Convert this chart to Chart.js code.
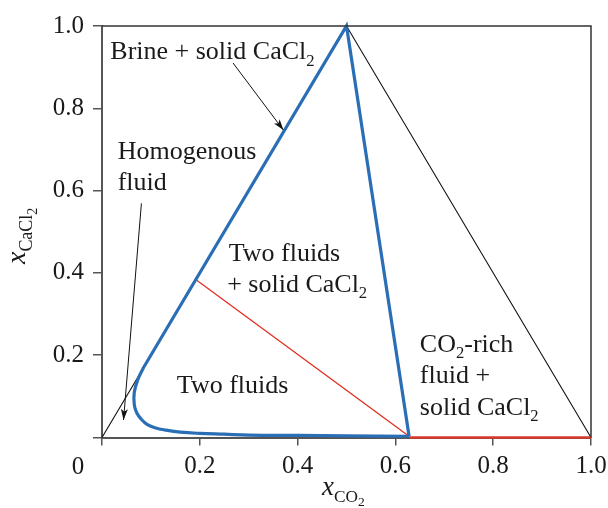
<!DOCTYPE html>
<html>
<head>
<meta charset="utf-8">
<script src="https://cdn.jsdelivr.net/npm/chart.js@4.4.1/dist/chart.umd.min.js"></script>
<style>
  body { margin: 0; background: #fff; }
</style>
</head>
<body>
<canvas id="phaseChart" width="608" height="508"></canvas>
<script>
// Ternary-like phase diagram: x(CO2) vs x(CaCl2)
const tickValues = [0, 0.2, 0.4, 0.6, 0.8, 1.0];

// outer triangle (thin black)
const triangleX = [0, 0.5, 1];
const triangleY = [0, 1, 0];

// blue boundary: straight edges
const blueEdgeX = [0.628, 0.5, 0.085];
const blueEdgeY = [0.003, 1.0, 0.17];

// blue boundary: curved part near the water corner
const blueCurveX = [0.085, 0.073, 0.066, 0.066, 0.071, 0.08, 0.092, 0.11, 0.13, 0.16, 0.2, 0.25, 0.3, 0.4, 0.5, 0.628];
const blueCurveY = [0.17, 0.14, 0.11, 0.08, 0.06, 0.045, 0.032, 0.023, 0.018, 0.013, 0.01, 0.008, 0.006, 0.005, 0.004, 0.003];

// red tie line and red bottom segment
const tieX = [0.193, 0.628];
const tieY = [0.383, 0.003];
const redBaseX = [0.628, 1.0];
const redBaseY = [0, 0];

// annotation arrows (start -> tip)
const arrowBrineX = [0.268, 0.371];
const arrowBrineY = [0.910, 0.747];
const arrowHomoX = [0.0806, 0.044];
const arrowHomoY = [0.569, 0.0425];

// region labels: [x, y(baseline), parts]
const regionLabels = [
  [0.017, 0.919, [['Brine + solid CaCl', 0], ['2', 1]]],
  [0.032, 0.678, [['Homogenous', 0]]],
  [0.032, 0.601, [['fluid', 0]]],
  [0.259, 0.430, [['Two fluids', 0]]],
  [0.256, 0.354, [['+ solid CaCl', 0], ['2', 1]]],
  [0.153, 0.107, [['Two fluids', 0]]],
  [0.650, 0.2085, [['CO', 0], ['2', 1], ['-rich', 0]]],
  [0.650, 0.133, [['fluid +', 0]]],
  [0.650, 0.055, [['solid CaCl', 0], ['2', 1]]]
];

const serif = "'Liberation Serif', 'Times New Roman', serif";

function toPoints(xs, ys) {
  return xs.map((v, i) => ({ x: v, y: ys[i] }));
}

function drawRich(ctx, parts, px, py, size) {
  let cx = px;
  parts.forEach(([txt, lvl, italic]) => {
    const fs = lvl === 0 ? size : (lvl === 1 ? size * 0.64 : size * 0.5);
    const dy = lvl === 0 ? 0 : (lvl === 1 ? size * 0.25 : size * 0.42);
    ctx.font = (italic ? 'italic ' : '') + fs + 'px ' + serif;
    ctx.fillText(txt, cx, py + dy);
    cx += ctx.measureText(txt).width;
  });
}

const decorations = {
  id: 'decorations',
  afterDatasetsDraw(chart) {
    const { ctx, chartArea: a, scales: { x, y } } = chart;
    ctx.save();

    // top and right frame lines
    ctx.strokeStyle = '#333';
    ctx.lineWidth = 1.5;
    ctx.beginPath();
    ctx.moveTo(a.left, a.top);
    ctx.lineTo(a.right, a.top);
    ctx.lineTo(a.right, a.bottom);
    ctx.stroke();

    // arrowheads
    ctx.fillStyle = '#111';
    [[arrowBrineX, arrowBrineY], [arrowHomoX, arrowHomoY]].forEach(([xs, ys]) => {
      const x0 = x.getPixelForValue(xs[0]), y0 = y.getPixelForValue(ys[0]);
      const x1 = x.getPixelForValue(xs[1]), y1 = y.getPixelForValue(ys[1]);
      const ang = Math.atan2(y1 - y0, x1 - x0);
      const len = 11, half = 3.5;
      ctx.save();
      ctx.translate(x1, y1);
      ctx.rotate(ang);
      ctx.beginPath();
      ctx.moveTo(0, 0);
      ctx.lineTo(-len, -half);
      ctx.lineTo(-len * 0.75, 0);
      ctx.lineTo(-len, half);
      ctx.closePath();
      ctx.fill();
      ctx.restore();
    });

    // region labels
    ctx.fillStyle = '#1a1a1a';
    ctx.textAlign = 'left';
    ctx.textBaseline = 'alphabetic';
    regionLabels.forEach(([lx, ly, parts]) => {
      drawRich(ctx, parts, x.getPixelForValue(lx), y.getPixelForValue(ly), 26);
    });

    // shared corner "0"
    ctx.font = '25px ' + serif;
    ctx.textAlign = 'center';
    ctx.textBaseline = 'middle';
    ctx.fillText('0', 78, 467);

    // axis titles
    ctx.textAlign = 'left';
    ctx.textBaseline = 'alphabetic';
    drawRich(ctx, [['x', 0, true], ['CO', 1], ['2', 2]], 322, 495, 27);

    ctx.save();
    ctx.translate(25, 264);
    ctx.rotate(-Math.PI / 2);
    drawRich(ctx, [['x', 0, true], ['CaCl', 1], ['2', 2]], 0, 0, 28);
    ctx.restore();

    ctx.restore();
  }
};

const ctx = document.getElementById('phaseChart').getContext('2d');
new Chart(ctx, {
  type: 'scatter',
  data: {
    datasets: [
      { data: toPoints(arrowBrineX, arrowBrineY), borderColor: '#111', borderWidth: 1, order: 0 },
      { data: toPoints(arrowHomoX, arrowHomoY), borderColor: '#111', borderWidth: 1, order: 0 },
      { data: toPoints(blueEdgeX, blueEdgeY), borderColor: '#2a6eb6', borderWidth: 3.2, order: 1, borderJoinStyle: 'miter' },
      { data: toPoints(blueCurveX, blueCurveY), borderColor: '#2a6eb6', borderWidth: 3.2, tension: 0.4, order: 1 },
      { data: toPoints(tieX, tieY), borderColor: '#e3281c', borderWidth: 1.2, order: 2 },
      { data: toPoints(redBaseX, redBaseY), borderColor: '#d8392b', borderWidth: 2.6, order: 2 },
      { data: toPoints(triangleX, triangleY), borderColor: '#111', borderWidth: 1.1, order: 3 }
    ].map(d => Object.assign({ showLine: true, pointRadius: 0, pointHoverRadius: 0, fill: false, clip: false }, d))
  },
  options: {
    responsive: false,
    animation: false,
    events: [],
    layout: { padding: { left: 0, top: 26, right: 17, bottom: 0 } },
    plugins: { legend: { display: false }, tooltip: { enabled: false } },
    scales: {
      x: {
        type: 'linear',
        min: 0, max: 1,
        afterBuildTicks: s => { s.ticks = tickValues.map(v => ({ value: v })); },
        afterFit: s => { s.height = 70.5; s.paddingLeft = 0; s.paddingRight = 0; },
        ticks: {
          callback: v => (v === 0 ? '' : v.toFixed(1)),
          font: { family: serif, size: 25 },
          color: '#1a1a1a',
          padding: 6,
          maxRotation: 0
        },
        grid: { drawOnChartArea: false, drawTicks: true, tickLength: 8, color: '#555', lineWidth: 1.5 },
        border: { display: true, color: '#555', width: 2 }
      },
      y: {
        type: 'linear',
        min: 0, max: 1,
        afterBuildTicks: s => { s.ticks = tickValues.map(v => ({ value: v })); },
        afterFit: s => { s.width = 102; s.paddingTop = 0; s.paddingBottom = 0; },
        ticks: {
          callback: v => (v === 0 ? '' : v.toFixed(1)),
          font: { family: serif, size: 25 },
          color: '#1a1a1a',
          padding: 9
        },
        grid: { drawOnChartArea: false, drawTicks: true, tickLength: 9, color: '#555', lineWidth: 1.5 },
        border: { display: true, color: '#555', width: 2 }
      }
    }
  },
  plugins: [decorations]
});
</script>
</body>
</html>
